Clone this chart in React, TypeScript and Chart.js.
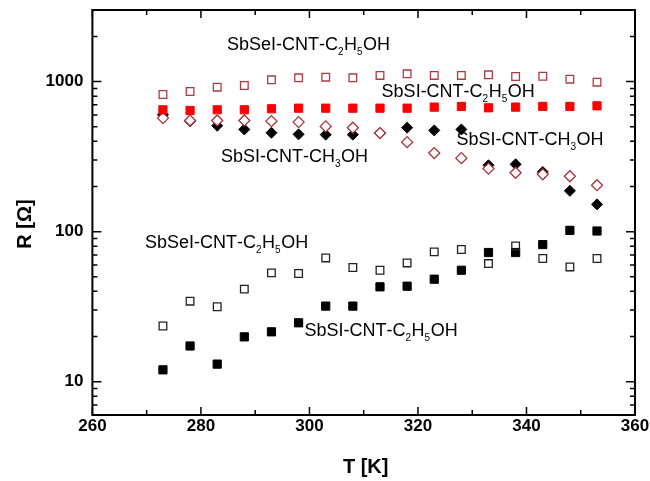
import React, { useEffect, useRef } from "react";
import { Chart, registerables } from "chart.js";

Chart.register(...registerables);

// ---- data ----
const temperatures = [273, 278, 283, 288, 293, 298, 303, 308, 313, 318, 323, 328, 333, 338, 343, 348, 353];

// SbSeI-CNT-C2H5OH (upper, open dark-red squares)
const sbseiEthanolUpper = [820, 859, 918, 942, 1028, 1060, 1070, 1060, 1099, 1127, 1099, 1099, 1110, 1081, 1086, 1038, 991];
// SbSI-CNT-C2H5OH (upper, filled red squares)
const sbsiEthanolUpper = [649, 642, 649, 649, 659, 665, 665, 665, 665, 665, 676, 683, 669, 676, 683, 683, 690];
// SbSI-CNT-CH3OH (open dark-red diamonds)
const sbsiMethanolOpen = [571, 551, 551, 551, 545, 537, 503, 493, 454, 395, 334, 309, 263, 247, 241, 234, 204];
// SbSI-CNT-CH3OH (filled black diamonds)
const sbsiMethanolFilled = [601, 545, 508, 480, 456, 445, 443, 443, 454, 493, 473, 480, 277, 281, 250, 187, 152];
// SbSeI-CNT-C2H5OH (lower, open black squares)
const sbseiEthanolLower = [23.5, 34.4, 31.6, 41.4, 53.1, 52.6, 66.8, 57.7, 55.3, 61.9, 73.3, 76.0, 61.3, 80.3, 66.2, 58.2, 66.2];
// SbSI-CNT-C2H5OH (lower, filled black squares)
const sbsiEthanolLower = [12.0, 17.3, 13.1, 19.9, 21.5, 24.7, 31.9, 31.9, 42.9, 43.3, 48.2, 55.3, 72.6, 72.6, 82.0, 102, 101];

const xTickLabels = [260, 280, 300, 320, 340, 360];
const xMinorTicks = [270, 290, 310, 330, 350];
const yTickLabels = [10, 100, 1000];

// text labels: "_" marks a subscript digit; anchored at (T, R) of the left baseline
const labelTexts = [
  "SbSeI-CNT-C_2H_5OH",
  "SbSI-CNT-C_2H_5OH",
  "SbSI-CNT-CH_3OH",
  "SbSI-CNT-CH_3OH",
  "SbSeI-CNT-C_2H_5OH",
  "SbSI-CNT-C_2H_5OH",
];
const labelT = [284.8, 313.3, 283.7, 327.1, 269.7, 299.1];
const labelR = [1620, 790, 292, 378, 78, 20.3];

const xTitle = "T [K]";
const yTitle = "R [Ω]";

const FONT = "'Liberation Sans', Arial, sans-serif";

function series(values: number[]) {
  return temperatures.map((t, i) => ({ x: t, y: values[i] }));
}

function drawChem(ctx: CanvasRenderingContext2D, x: number, y: number, text: string) {
  let cx = x;
  let i = 0;
  while (i < text.length) {
    if (text[i] === "_" && i + 1 < text.length) {
      ctx.font = `10px ${FONT}`;
      ctx.fillText(text[i + 1], cx, y + 5);
      cx += ctx.measureText(text[i + 1]).width + 0.5;
      i += 2;
    } else {
      ctx.font = `18px ${FONT}`;
      ctx.fillText(text[i], cx, y);
      cx += ctx.measureText(text[i]).width;
      i += 1;
    }
  }
}

const framePlugin = {
  id: "framePlugin",
  afterDraw(chart: any) {
    const ctx: CanvasRenderingContext2D = chart.ctx;
    const { left, right, top, bottom } = chart.chartArea;
    const xs = chart.scales.x;
    const ys = chart.scales.y;
    ctx.save();
    ctx.strokeStyle = "#000";
    // ticks
    ctx.lineWidth = 1.5;
    const hTick = (v: number, len: number) => {
      const px = xs.getPixelForValue(v);
      ctx.beginPath();
      ctx.moveTo(px, bottom);
      ctx.lineTo(px, bottom - len);
      ctx.moveTo(px, top);
      ctx.lineTo(px, top + len);
      ctx.stroke();
    };
    xTickLabels.forEach((v) => hTick(v, 8));
    xMinorTicks.forEach((v) => hTick(v, 5));
    const vTick = (v: number, len: number) => {
      const py = ys.getPixelForValue(v);
      ctx.beginPath();
      ctx.moveTo(left, py);
      ctx.lineTo(left + len, py);
      ctx.moveTo(right, py);
      ctx.lineTo(right - len, py);
      ctx.stroke();
    };
    const yMin = ys.min;
    const yMax = ys.max;
    for (let dec = 1; dec <= 10000; dec *= 10) {
      for (let m = 1; m <= 9; m++) {
        const v = m * dec;
        if (v < yMin || v > yMax) continue;
        if (m === 1) vTick(v, 9);
        else vTick(v, 5);
      }
    }
    // frame
    ctx.lineWidth = 2;
    ctx.strokeRect(left, top, right - left, bottom - top);

    // tick labels
    ctx.fillStyle = "#000";
    ctx.font = `bold 17px ${FONT}`;
    ctx.textAlign = "center";
    ctx.textBaseline = "middle";
    xTickLabels.forEach((v) => ctx.fillText(String(v), xs.getPixelForValue(v), bottom + 11));
    ctx.textAlign = "right";
    yTickLabels.forEach((v) => ctx.fillText(String(v), left - 9, ys.getPixelForValue(v)));

    // axis titles
    ctx.font = `bold 20px ${FONT}`;
    ctx.textAlign = "center";
    ctx.textBaseline = "middle";
    ctx.fillText(xTitle, (left + right) / 2 + 2, 467);
    ctx.save();
    ctx.translate(25, 224);
    ctx.rotate(-Math.PI / 2);
    ctx.fillText(yTitle, 0, 0);
    ctx.restore();

    // annotations
    ctx.textAlign = "left";
    ctx.textBaseline = "alphabetic";
    labelTexts.forEach((t, i) => {
      drawChem(ctx, xs.getPixelForValue(labelT[i]), ys.getPixelForValue(labelR[i]), t);
    });
    ctx.restore();
  },
};

export default function App() {
  const ref = useRef<HTMLCanvasElement | null>(null);
  useEffect(() => {
    document.body.style.margin = "0";
    const canvas = ref.current;
    if (!canvas) return;
    // Chart.js draws the first dataset on top, so the list goes from top layer to bottom layer
    const chart = new Chart(canvas, {
      type: "scatter",
      data: {
        datasets: [
          {
            label: "SbSeI-CNT-C2H5OH upper",
            data: series(sbseiEthanolUpper),
            pointStyle: "rect",
            pointRadius: 5.4,
            backgroundColor: "rgba(255,255,255,0)",
            borderColor: "#b03a40",
            borderWidth: 1.3,
          },
          {
            label: "SbSI-CNT-C2H5OH upper",
            data: series(sbsiEthanolUpper),
            pointStyle: "rect",
            pointRadius: 5.8,
            backgroundColor: "#ff0000",
            borderColor: "#ff0000",
            borderWidth: 1,
          },
          {
            label: "SbSI-CNT-CH3OH open",
            data: series(sbsiMethanolOpen),
            pointStyle: "rectRot",
            pointRadius: 5.5,
            backgroundColor: "#fff",
            borderColor: "#a8323c",
            borderWidth: 1.3,
          },
          {
            label: "SbSI-CNT-CH3OH filled",
            data: series(sbsiMethanolFilled),
            pointStyle: "rectRot",
            pointRadius: 5.5,
            backgroundColor: "#000",
            borderColor: "#000",
            borderWidth: 1,
          },
          {
            label: "SbSeI-CNT-C2H5OH lower",
            data: series(sbseiEthanolLower),
            pointStyle: "rect",
            pointRadius: 5.4,
            backgroundColor: "rgba(255,255,255,0)",
            borderColor: "#222",
            borderWidth: 1.3,
          },
          {
            label: "SbSI-CNT-C2H5OH lower",
            data: series(sbsiEthanolLower),
            pointStyle: "rect",
            pointRadius: 5.8,
            backgroundColor: "#000",
            borderColor: "#000",
            borderWidth: 1,
          },
        ],
      },
      options: {
        animation: false,
        responsive: false,
        devicePixelRatio: 1,
        layout: { padding: { left: 92.4, right: 15, top: 10, bottom: 66 } },
        plugins: {
          legend: { display: false },
          tooltip: { enabled: false },
        },
        scales: {
          x: {
            type: "linear",
            display: false,
            min: 260,
            max: 360,
          },
          y: {
            type: "logarithmic",
            display: false,
            min: 6,
            max: 3000,
          },
        },
      },
      plugins: [framePlugin],
    } as any);
    return () => chart.destroy();
  }, []);
  return (
    <div style={{ width: 650, height: 481, background: "#fff" }}>
      <canvas ref={ref} width={650} height={481} style={{ display: "block" }} />
    </div>
  );
}
